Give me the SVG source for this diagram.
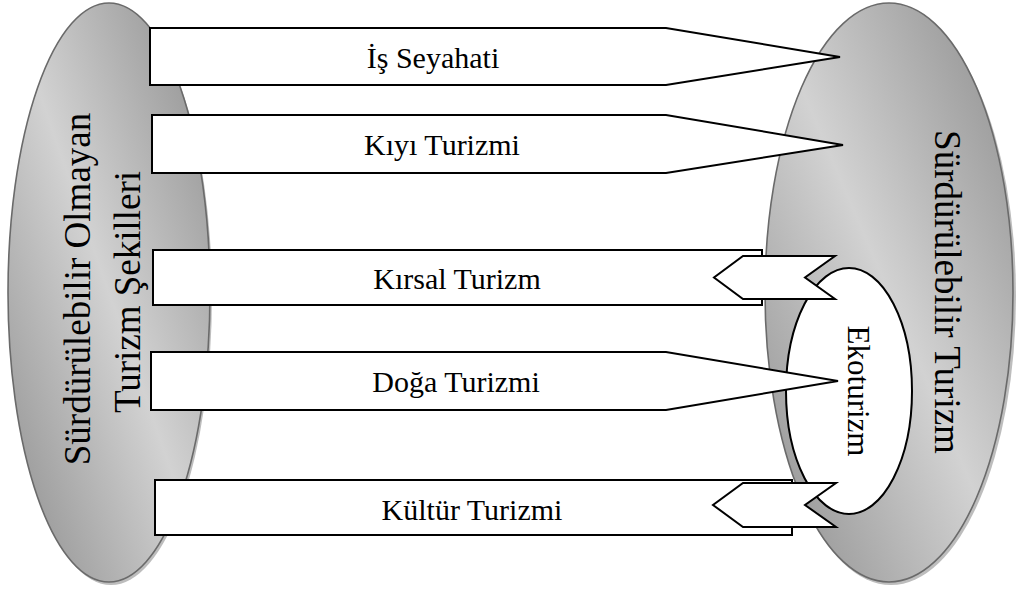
<svg xmlns="http://www.w3.org/2000/svg" width="1020" height="594" viewBox="0 0 1020 594">
<defs>
<linearGradient id="gray" x1="0" y1="1" x2="1" y2="0">
<stop offset="0" stop-color="#8c8c8c"/>
<stop offset="0.5" stop-color="#d2d2d2"/>
<stop offset="1" stop-color="#8c8c8c"/>
</linearGradient>
</defs>
<style>
.big{fill:url(#gray);stroke:#6a6a6a;stroke-width:1.6}
.shadow{fill:#bdbdbd}
.box{fill:#fff;stroke:#000;stroke-width:2}
.lbl{font-family:"Liberation Serif","Times New Roman",serif;font-size:30px;fill:#000;text-anchor:middle}
.eko{font-family:"Liberation Serif","Times New Roman",serif;font-size:31px;fill:#000;text-anchor:middle}
.vt{font-family:"Liberation Serif","Times New Roman",serif;font-size:37px;fill:#000;text-anchor:middle}
</style>
<rect width="1020" height="594" fill="#fff"/>
<g id="left-group">
<ellipse class="shadow" cx="111" cy="296" rx="101" ry="289"/>
<ellipse class="big" cx="109" cy="292.5" rx="101" ry="289.5"/>
<text class="vt" transform="translate(90,289) rotate(-90)">Sürdürülebilir Olmayan</text>
<text class="vt" transform="translate(140,292) rotate(-90)">Turizm Şekilleri</text>
</g>
<g id="right-group">
<ellipse class="shadow" cx="891" cy="296" rx="125" ry="289"/>
<ellipse class="big" cx="889" cy="292.5" rx="124" ry="289.5"/>
<text class="vt" transform="translate(935,292) rotate(90)">Sürdürülebilir Turizm</text>
</g>
<g id="ekoturizm">
<ellipse cx="849" cy="391" rx="63" ry="123" fill="#fff" stroke="#000" stroke-width="2"/>
<text class="eko" transform="translate(848,391) rotate(90)">Ekoturizm</text>
</g>
<g id="connectors">
<g id="is-seyahati">
<path class="box" d="M150,28 H666 L840,57 L666,85 H150 Z"/>
<text class="lbl" x="433" y="68">İş Seyahati</text>
</g>
<g id="kiyi-turizmi">
<path class="box" d="M152,115 H666 L843,145 L666,173 H152 Z"/>
<text class="lbl" x="442" y="155">Kıyı Turizmi</text>
</g>
<g id="kirsal-turizm">
<rect class="box" x="153" y="250" width="609" height="55"/>
<path class="box" d="M835,256 H743 L714,277.5 L743,299 H835 L805,277.5 Z"/>
<text class="lbl" x="457" y="289">Kırsal Turizm</text>
</g>
<g id="doga-turizmi">
<path class="box" d="M151,352 H666 L838,381 L666,410 H151 Z"/>
<text class="lbl" x="456" y="392">Doğa Turizmi</text>
</g>
<g id="kultur-turizmi">
<rect class="box" x="155" y="480" width="637" height="55"/>
<path class="box" d="M836,483 H743 L713,505 L743,527 H836 L805,505 Z"/>
<text class="lbl" x="472" y="520">Kültür Turizmi</text>
</g>
</g>
</svg>
